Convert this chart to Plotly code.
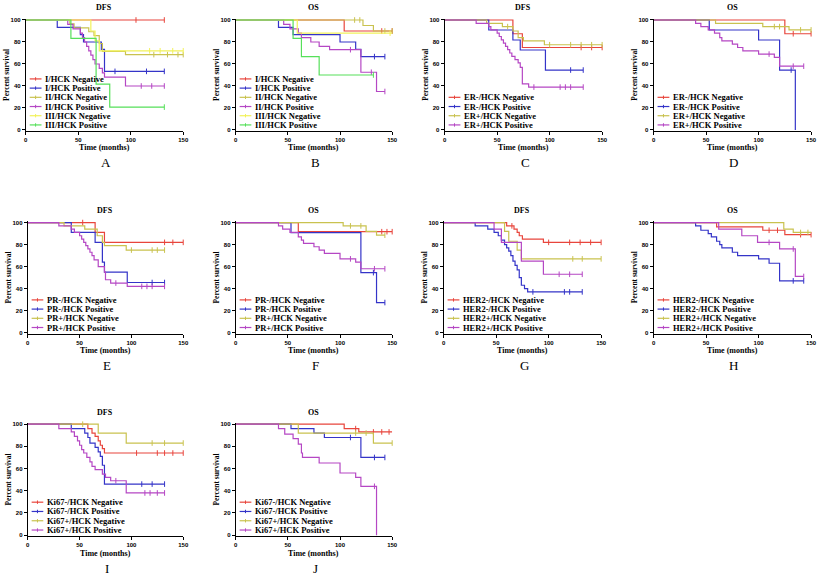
import plotly.graph_objects as go

# ---- survival data (drop times, survival after drop) ----
COLORS4 = ["#e8453c", "#3434c8", "#c9c24f", "#b547c4"]
COLORS6 = ["#e8453c", "#3434c8", "#c9c24f", "#b547c4", "#f2f25a", "#56e05a"]

# A: DFS by stage
A_NAMES = ["I/HCK Negative", "I/HCK Positive", "II/HCK Negative", "II/HCK Positive",
           "III/HCK Negative", "III/HCK Positive"]
A_T = [[], [30, 52, 55, 72, 75], [42, 46, 60, 65, 70, 73, 95],
       [40, 45, 52, 54, 56, 58, 60, 62, 64, 66, 70, 73, 75, 95],
       [62, 66, 70], [43, 67, 80]]
A_S = [[], [93.3, 86.7, 80, 73.3, 53.3], [96.4, 92.9, 89.3, 85.7, 78.6, 71.4, 68.5],
       [96, 92, 88, 84, 80, 76, 72, 68, 64, 60, 56, 52, 48, 40],
       [90, 81, 72], [83.3, 41.7, 20.8]]
A_END = [132, 132, 150, 132, 150, 132]
A_CENS = [[105, 132], [85, 115, 132], [122, 135, 145, 150], [110, 120, 132],
          [118, 128, 140, 150], [132]]

# B: OS by stage
B_NAMES = A_NAMES
B_T = [[104], [41, 55, 100, 115, 120], [122, 132],
       [46, 52, 60, 63, 72, 80, 90, 120, 135], [59], [55, 63, 80]]
B_S = [[90], [93.3, 86.7, 80, 73.3, 66.7], [95, 90],
       [96, 92, 88, 84, 80, 76, 73, 52.5, 35], [88], [83.3, 66.7, 50]]
B_END = [150, 143, 150, 143, 150, 132]
B_CENS = [[140, 150], [133, 143], [114, 119, 143, 150], [110, 130, 143], [148], [132]]

# C: DFS by ER
C_NAMES = ["ER-/HCK Negative", "ER-/HCK Positive", "ER+/HCK Negative", "ER+/HCK Positive"]
C_T = [[65, 74], [42, 65, 72, 96], [40, 55, 65, 70, 75, 95],
       [30, 42, 44, 50, 52, 54, 56, 58, 60, 62, 64, 67, 70, 72, 74, 80]]
C_S = [[87.5, 75], [90.9, 81.8, 72.7, 54.5], [97, 94, 90, 84, 81, 77.5],
       [97, 94, 91, 88, 85, 82, 79, 76, 73, 70, 67, 64, 61, 57, 42, 39]]
C_END = [150, 132, 150, 132]
C_CENS = [[130, 140, 150], [120, 132], [60, 100, 120, 130, 140, 150], [85, 110, 115, 120, 132]]

# D: OS by ER
D_NAMES = C_NAMES
D_T = [[125], [53, 100, 120, 135], [59, 104, 129],
       [40, 45, 52, 58, 63, 65, 75, 80, 85, 100, 115, 120]]
D_S = [[87.5], [90.9, 81.8, 54.5, 0], [97, 94, 91],
       [97, 94, 91, 88, 84, 81, 78, 75, 72, 69, 66, 58]]
D_END = [150, 135, 150, 143]
D_CENS = [[133, 150], [131], [115, 120, 140, 150], [110, 133, 143]]

# E: DFS by PR
E_NAMES = ["PR-/HCK Negative", "PR-/HCK Positive", "PR+/HCK Negative", "PR+/HCK Positive"]
E_T = [[65, 74], [42, 65, 72, 74, 96], [35, 55, 67, 72, 74, 95],
       [30, 42, 45, 50, 52, 54, 56, 58, 60, 62, 64, 68, 74, 75, 80, 96]]
E_S = [[91, 82], [91, 82, 64, 55, 45.5], [97, 94, 88, 82, 79, 75],
       [97, 94, 91, 88, 85, 82, 79, 76, 73, 70, 66, 60, 55, 48, 45, 42]]
E_END = [150, 132, 132, 132]
E_CENS = [[53, 132, 140, 150], [120, 132], [100, 120, 125, 132], [85, 110, 115, 120, 132]]

# F: OS by PR
F_NAMES = E_NAMES
F_T = [[60], [53, 120, 135], [103, 125, 135],
       [41, 45, 52, 60, 63, 65, 75, 80, 85, 100, 115, 120]]
F_S = [[91.7], [90.9, 54.5, 27.3], [97, 92, 88.5],
       [97, 94, 91, 87, 84, 81, 78, 75, 72, 67, 64, 58]]
F_END = [150, 143, 143, 143]
F_CENS = [[140, 145, 150], [132, 143], [110, 120, 143], [110, 133, 143]]

# G: DFS by HER2
G_NAMES = ["HER2-/HCK Negative", "HER2-/HCK Positive", "HER2+/HCK Negative", "HER2+/HCK Positive"]
G_T = [[60, 67, 70, 72, 75, 95],
       [30, 42, 48, 52, 55, 58, 60, 62, 64, 66, 68, 70, 72, 74, 77, 80],
       [58, 62, 70, 74], [48, 55, 74, 95]]
G_S = [[97, 94, 91, 88, 85, 82],
       [97, 94, 91, 88, 84, 80, 77, 74, 70, 65, 61, 57, 50, 43, 40, 37],
       [92, 83, 75, 67], [94, 82, 65, 53]]
G_END = [150, 132, 150, 132]
G_CENS = [[65, 100, 120, 130, 140, 150], [85, 115, 120, 132], [123, 132, 150], [110, 120, 132]]

# H: OS by HER2
H_NAMES = G_NAMES
H_T = [[60, 104, 125], [40, 45, 52, 55, 60, 63, 65, 75, 80, 100, 110, 120],
       [124, 133], [62, 84, 99, 120, 135]]
H_S = [[96, 93, 89], [97, 93, 90, 87, 83, 80, 77, 73, 70, 67, 63, 47],
       [94, 91], [94, 88, 82, 76, 51]]
H_END = [150, 143, 150, 143]
H_CENS = [[110, 118, 140, 150], [133, 143], [140, 147], [110, 133, 143]]

# I: DFS by Ki67
I_NAMES = ["Ki67-/HCK Negative", "Ki67-/HCK Positive", "Ki67+/HCK Negative", "Ki67+/HCK Positive"]
I_T = [[58, 62, 65, 68, 70, 72, 74], [42, 55, 58, 60, 65, 68, 70, 72, 74], [68, 95],
       [30, 42, 45, 48, 50, 52, 54, 57, 60, 62, 65, 72, 75, 80, 95]]
I_S = [[96, 92, 89, 85, 81, 78, 74], [96, 92, 88, 83, 79, 75, 71, 63, 46], [92, 83],
       [96, 93, 89, 85, 81, 77, 74, 70, 66, 62, 59, 55, 52, 49, 38]]
I_END = [150, 132, 150, 132]
I_CENS = [[105, 125, 132, 140, 150], [110, 120, 132], [53, 120, 132, 150], [85, 113, 118, 125, 132]]

# J: OS by Ki67
J_NAMES = I_NAMES
J_T = [[104, 118], [53, 75, 85, 120], [60, 132],
       [41, 47, 55, 60, 63, 64, 80, 100, 115, 120, 135]]
J_S = [[96, 93], [96, 92, 88, 70], [92, 83],
       [96, 91, 87, 82, 74, 70, 65, 56, 52, 44, 0]]
J_END = [150, 143, 150, 135]
J_CENS = [[115, 132, 140, 147], [110, 133, 143], [115, 125, 150], [133]]

X_TICKS = [0, 50, 100, 150]
Y_TICKS = [0, 20, 40, 60, 80, 100]

W, H = 825, 575
SERIF = "Liberation Serif, Times New Roman, serif"
SANS = "Liberation Sans, Arial, sans-serif"

# panel boxes in pixels: left, right, top, bottom
PANELS = [
    ("A", "DFS", A_NAMES, A_T, A_S, A_END, A_CENS, (24, 183, 17, 130)),
    ("B", "OS", B_NAMES, B_T, B_S, B_END, B_CENS, (236, 394, 17, 130)),
    ("C", "DFS", C_NAMES, C_T, C_S, C_END, C_CENS, (447, 606, 17, 130)),
    ("D", "OS", D_NAMES, D_T, D_S, D_END, D_CENS, (658, 817, 17, 130)),
    ("E", "DFS", E_NAMES, E_T, E_S, E_END, E_CENS, (26, 183, 221, 334)),
    ("F", "OS", F_NAMES, F_T, F_S, F_END, F_CENS, (236, 394, 221, 334)),
    ("G", "DFS", G_NAMES, G_T, G_S, G_END, G_CENS, (446, 605, 221, 334)),
    ("H", "OS", H_NAMES, H_T, H_S, H_END, H_CENS, (658, 817, 221, 334)),
    ("I", "DFS", I_NAMES, I_T, I_S, I_END, I_CENS, (26, 183, 424, 538)),
    ("J", "OS", J_NAMES, J_T, J_S, J_END, J_CENS, (236, 394, 424, 538)),
]


def step_value(times, surv, t):
    v = 100
    for ti, si in zip(times, surv):
        if ti <= t:
            v = si
    return v


def label(x, y, text, size, bold=True, angle=0):
    return dict(xref="paper", yref="paper", x=x, y=y, text=text, showarrow=False,
                xanchor="center", yanchor="middle", textangle=angle,
                font=dict(family=SERIF, size=size, color="black",
                          weight="bold" if bold else "normal"))


fig = go.Figure()
layout = {}
shapes = []
annotations = []

for k, (letter, title, names, T, S, END, CENS, box) in enumerate(PANELS, start=1):
    xa = "x" if k == 1 else f"x{k}"
    ya = "y" if k == 1 else f"y{k}"
    left, right, top, bottom = box
    colors = COLORS6 if len(names) == 6 else COLORS4

    for name, t, s, end, cens, col in zip(names, T, S, END, CENS, colors):
        xs = [0] + t + [end]
        ys = [100] + s + [s[-1] if s else 100]
        fig.add_trace(go.Scatter(
            x=xs, y=ys, mode="lines", line=dict(color=col, width=1.2, shape="hv"),
            name=name, xaxis=xa, yaxis=ya, showlegend=False,
        ))
        fig.add_trace(go.Scatter(
            x=cens, y=[step_value(t, s, c) for c in cens], mode="markers",
            marker=dict(symbol="line-ns", size=4, line=dict(color=col, width=1)),
            xaxis=xa, yaxis=ya, showlegend=False, cliponaxis=False, hoverinfo="skip",
        ))

    axis_common = dict(
        showline=True, linecolor="black", linewidth=1, showgrid=False, zeroline=False,
        ticks="outside", ticklen=3, tickwidth=1, tickcolor="black",
        tickfont=dict(family=SANS, size=6, color="black", weight="bold"),
    )
    layout[xa.replace("x", "xaxis")] = dict(
        axis_common, domain=[left / W, right / W], range=[0, 150],
        tickvals=X_TICKS, anchor=ya,
    )
    layout[ya.replace("y", "yaxis")] = dict(
        axis_common, domain=[1 - bottom / H, 1 - top / H], range=[-1, 101],
        tickvals=Y_TICKS, anchor=xa,
    )

    # compact legend inside each panel
    n = len(names)
    for i, (name, col) in enumerate(zip(names, colors)):
        yy = 0.055 + (n - 1 - i) * 0.082
        shapes.append(dict(type="line", xref=f"{xa} domain", yref=f"{ya} domain",
                           x0=0.025, x1=0.10, y0=yy, y1=yy, line=dict(color=col, width=1.2)))
        shapes.append(dict(type="line", xref=f"{xa} domain", yref=f"{ya} domain",
                           x0=0.0625, x1=0.0625, y0=yy - 0.015, y1=yy + 0.015,
                           line=dict(color=col, width=1)))
        annotations.append(dict(xref=f"{xa} domain", yref=f"{ya} domain", x=0.112, y=yy,
                                text=name, showarrow=False, xanchor="left", yanchor="middle",
                                font=dict(family=SERIF, size=8.5, color="black", weight="bold")))

    cx = (left + right) / 2 / W
    annotations.append(label(cx, 1 - (top - 11) / H, title, 8))
    annotations.append(label(cx, 1 - (bottom + 17) / H, "Time (months)", 8))
    annotations.append(label((left - 19) / W, 1 - (top + bottom) / 2 / H,
                             "Percent survival", 7.5, angle=-90))
    annotations.append(label(cx + 0.002, 1 - (bottom + 32) / H, letter, 13, bold=False))

fig.update_layout(
    width=W, height=H, margin=dict(l=0, r=0, t=0, b=0),
    paper_bgcolor="white", plot_bgcolor="white",
    shapes=shapes, annotations=annotations, showlegend=False,
    **layout,
)

fig.write_html("out.html", config={"displayModeBar": False},
               post_script="document.body.style.margin = '0';")
